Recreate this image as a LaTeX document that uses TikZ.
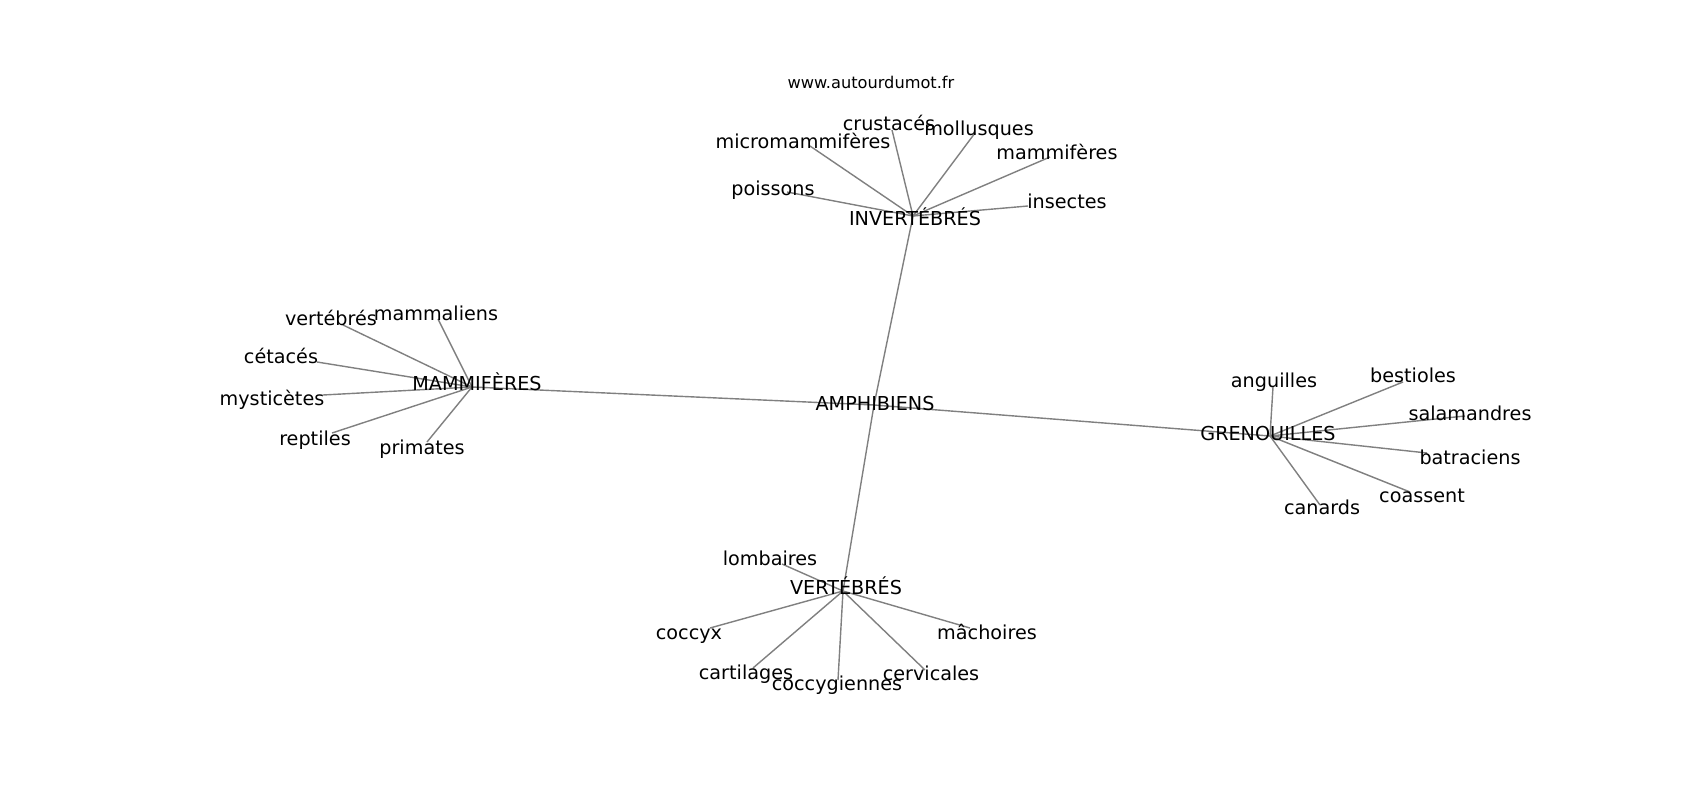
\documentclass[tikz,border=0pt]{standalone}
\usepackage{fontspec}
\setmainfont{DejaVu Sans}
\begin{document}
\begin{tikzpicture}[x=1pt,y=-1pt,
  lbl/.style={inner sep=0pt,anchor=center,text height=14pt,text depth=0pt,font=\fontsize{19.2pt}{23pt}\selectfont,text=black},
  ttl/.style={inner sep=0pt,anchor=center,text height=11.8pt,text depth=0pt,font=\fontsize{16.2pt}{19pt}\selectfont,text=black},
  edge/.style={draw=black!50,line width=1.4pt}]
\useasboundingbox[fill=white] (0,0) rectangle (1700,800);
% edge end points
\coordinate (amp-p) at (874,405);
\coordinate (inv-p) at (913,216);
\coordinate (mam-p) at (472,387);
\coordinate (gre-p) at (1270,436);
\coordinate (ver-p) at (843,591);
\coordinate (cru-p) at (892,130);
\coordinate (mol-p) at (975,133);
\coordinate (mic-p) at (810,146);
\coordinate (poi-p) at (787,192);
\coordinate (mmf-p) at (1050,157);
\coordinate (ins-p) at (1028,206);
\coordinate (mml-p) at (438,319);
\coordinate (vtb-p) at (343,325);
\coordinate (cet-p) at (317,362);
\coordinate (mys-p) at (323,395);
\coordinate (rep-p) at (332,433);
\coordinate (pri-p) at (427,442);
\coordinate (ang-p) at (1273,387);
\coordinate (bes-p) at (1403,382);
\coordinate (sal-p) at (1465,416);
\coordinate (bat-p) at (1427,453);
\coordinate (coa-p) at (1410,492);
\coordinate (can-p) at (1320,505);
\coordinate (lom-p) at (782,564);
\coordinate (cox-p) at (710,628);
\coordinate (mac-p) at (970,628);
\coordinate (car-p) at (753,668);
\coordinate (cog-p) at (838,680);
\coordinate (cer-p) at (925,670);
% edges
\foreach \a/\b in {amp/inv,amp/mam,amp/gre,amp/ver,
  inv/cru,inv/mol,inv/mic,inv/poi,inv/mmf,inv/ins,
  mam/mml,mam/vtb,mam/cet,mam/mys,mam/rep,mam/pri,
  gre/ang,gre/bes,gre/sal,gre/bat,gre/coa,gre/can,
  ver/lom,ver/cox,ver/mac,ver/car,ver/cog,ver/cer}
  \draw[edge] (\a-p) -- (\b-p);
% labels
\node[ttl] (title) at (871,83) {www.autourdumot.fr};
\node[lbl] (amp) at (875,403) {AMPHIBIENS};
\node[lbl] (inv) at (915,218) {INVERTÉBRÉS};
\node[lbl] (mam) at (477,383) {MAMMIFÈRES};
\node[lbl] (gre) at (1268,433) {GRENOUILLES};
\node[lbl] (ver) at (846,587) {VERTÉBRÉS};
\node[lbl] (cru) at (889,123) {crustacés};
\node[lbl] (mol) at (979,128) {mollusques};
\node[lbl] (mic) at (803,141) {micromammifères};
\node[lbl] (poi) at (773,188) {poissons};
\node[lbl] (mmf) at (1057,152) {mammifères};
\node[lbl] (ins) at (1067,201) {insectes};
\node[lbl] (mml) at (436,313) {mammaliens};
\node[lbl] (vtb) at (331,318) {vertébrés};
\node[lbl] (cet) at (281,356) {cétacés};
\node[lbl] (mys) at (272,398) {mysticètes};
\node[lbl] (rep) at (315,438) {reptiles};
\node[lbl] (pri) at (422,447) {primates};
\node[lbl] (ang) at (1274,380) {anguilles};
\node[lbl] (bes) at (1413,375) {bestioles};
\node[lbl] (sal) at (1470,413) {salamandres};
\node[lbl] (bat) at (1470,457) {batraciens};
\node[lbl] (coa) at (1422,495) {coassent};
\node[lbl] (can) at (1322,507) {canards};
\node[lbl] (lom) at (770,558) {lombaires};
\node[lbl] (cox) at (689,632) {coccyx};
\node[lbl] (mac) at (987,632) {mâchoires};
\node[lbl] (car) at (746,672) {cartilages};
\node[lbl] (cog) at (837,683) {coccygiennes};
\node[lbl] (cer) at (931,673) {cervicales};
\end{tikzpicture}
\end{document}
